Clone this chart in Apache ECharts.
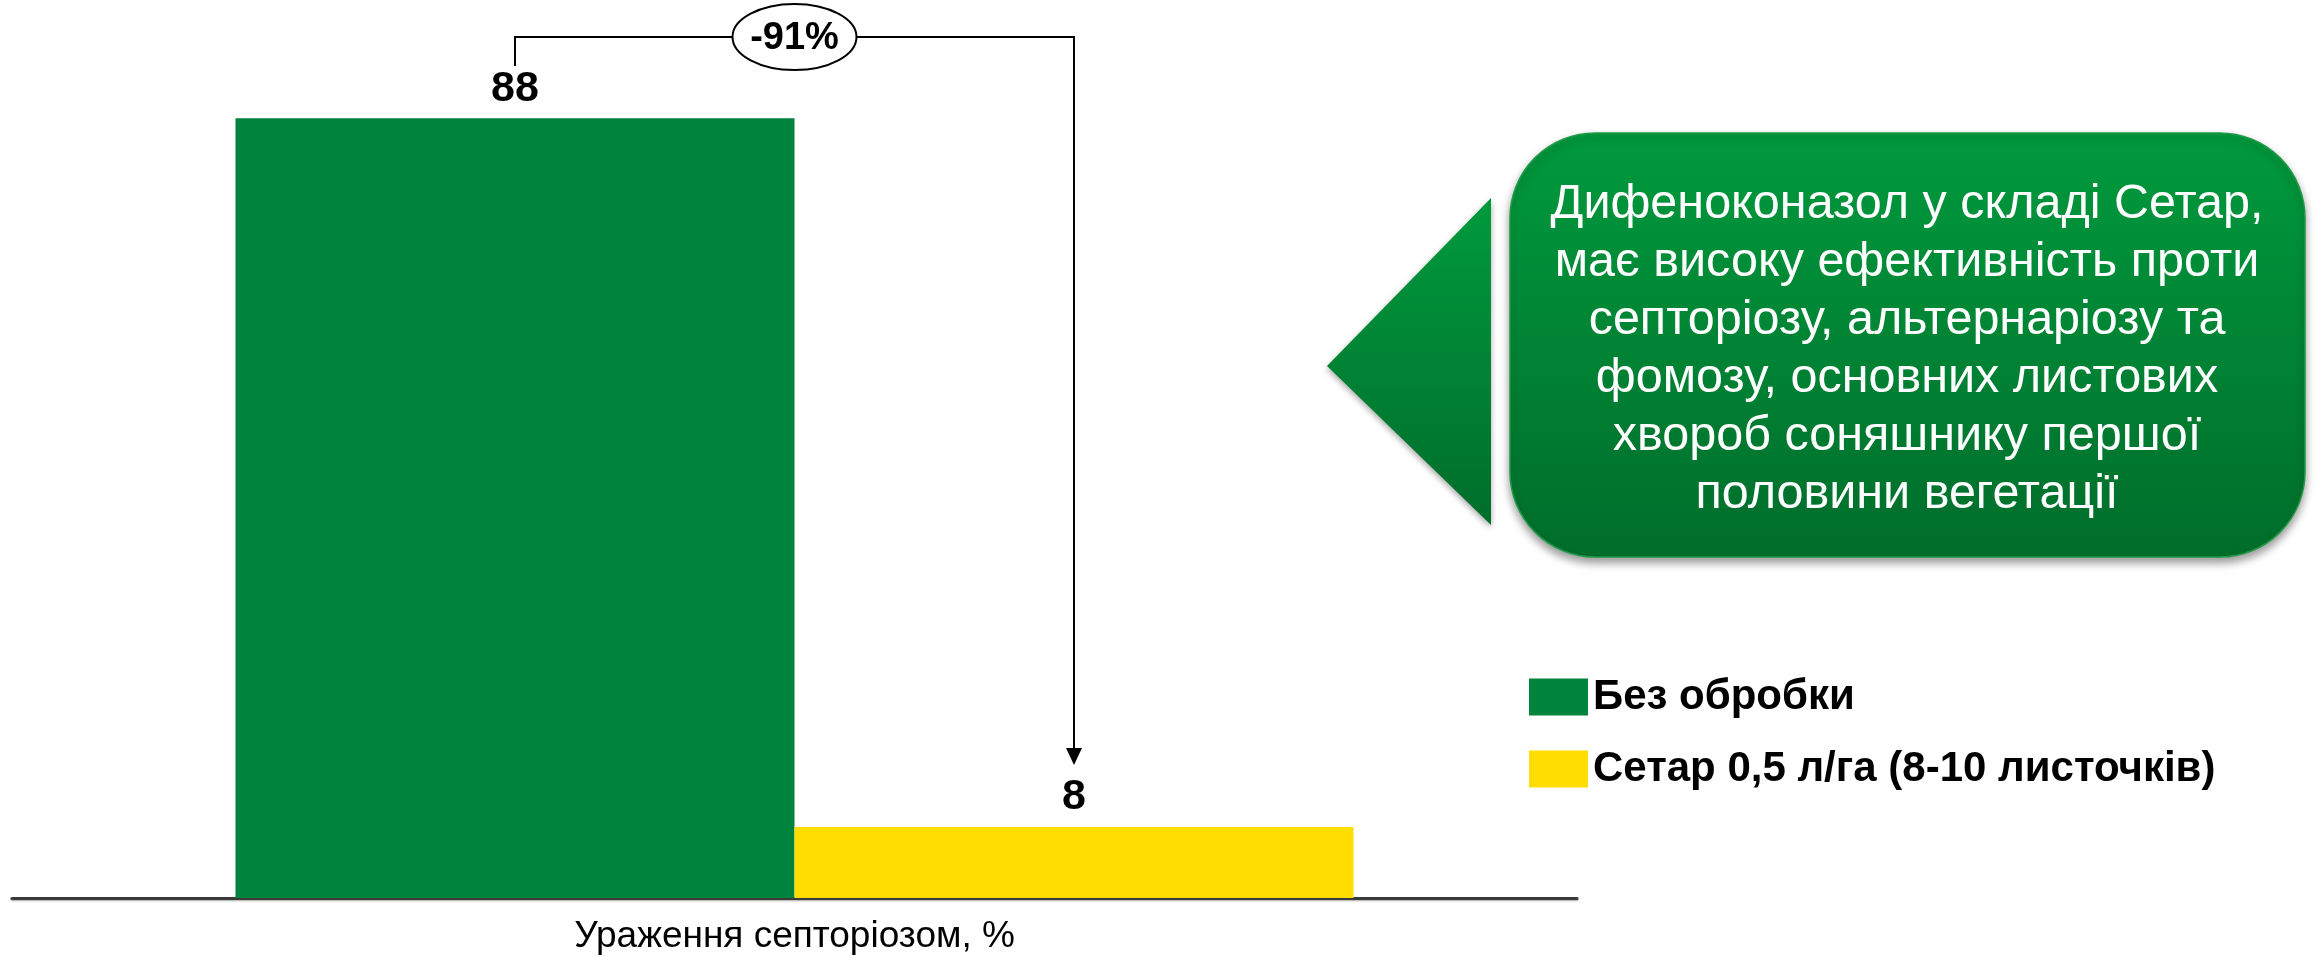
<!DOCTYPE html>
<html>
<head>
<meta charset="utf-8">
<style>
html,body{margin:0;padding:0;background:#fff;}
#c{width:2315px;height:956px;}
</style>
<script src="https://cdn.jsdelivr.net/npm/echarts@6/dist/echarts.min.js"></script>
</head>
<body>
<div id="c"></div>
<script>
const categories = ['Ураження септоріозом, %'];
const seriesNames = ['Без обробки', 'Сетар 0,5 л/га (8-10 листочків)'];
const untreated = [88];
const setar = [8];
const calloutLines = [
  'Дифеноконазол у складі Сетар,',
  'має високу ефективність проти',
  'септоріозу, альтернаріозу та',
  'фомозу, основних листових',
  'хвороб соняшнику першої',
  'половини вегетації'
];

const change = Math.round((setar[0] - untreated[0]) / untreated[0] * 100);
const changeText = (change > 0 ? '+' : '') + change + '%';

const FONT = '"Liberation Sans", Arial, sans-serif';
const chart = echarts.init(document.getElementById('c'));

const calloutFill = new echarts.graphic.LinearGradient(0, 0, 0, 1, [
  {offset: 0, color: '#009a3d'},
  {offset: 1, color: '#006d2b'}
]);

const labelStyle = {show: true, position: 'top', distance: 8, fontFamily: FONT, fontSize: 43, fontWeight: 'bold', color: '#000'};

chart.setOption({
  animation: false,
  backgroundColor: '#ffffff',
  grid: {left: 12, right: 738, top: 12, bottom: 58},
  legend: {
    orient: 'vertical',
    left: 1524,
    top: 671,
    itemWidth: 59,
    itemHeight: 37,
    itemGap: 30,
    itemTextGap: 10,
    itemStyle: {borderWidth: 0},
    icon: 'rect',
    textStyle: {fontFamily: FONT, fontSize: 42, fontWeight: 'bold', color: '#000'},
    data: seriesNames
  },
  xAxis: {
    type: 'category',
    data: categories,
    axisTick: {show: false},
    axisLine: {lineStyle: {color: '#3a3a3a', width: 3, shadowColor: 'rgba(0,0,0,0.35)', shadowBlur: 2, shadowOffsetY: 1}},
    axisLabel: {fontFamily: FONT, fontSize: 37, color: '#000', margin: 20}
  },
  yAxis: {
    type: 'value', min: 0, max: 100,
    show: false,
    splitLine: {show: false}
  },
  series: [
    {
      name: seriesNames[0], type: 'bar', data: untreated,
      barWidth: 559, barGap: '0%',
      itemStyle: {color: '#00843d'},
      label: labelStyle
    },
    {
      name: seriesNames[1], type: 'bar', data: setar,
      barWidth: 559, barGap: '0%',
      itemStyle: {color: '#ffdd00'},
      label: labelStyle
    }
  ],
  graphic: [
    {type: 'polyline', shape: {points: [[515, 66], [515, 37], [1074, 37], [1074, 750]]},
     style: {stroke: '#000', lineWidth: 2, fill: null}, z: 10},
    {type: 'polygon', shape: {points: [[1066, 748], [1082, 748], [1074, 765]]},
     style: {fill: '#000'}, z: 10},
    {type: 'ellipse', shape: {cx: 794.5, cy: 37, rx: 62, ry: 33},
     style: {fill: '#fff', stroke: '#000', lineWidth: 2}, z: 11},
    {type: 'text', x: 794.5, y: 39, z: 12,
     style: {text: changeText, fontFamily: FONT, fontSize: 38, fontWeight: 'bold', fill: '#000', align: 'center', verticalAlign: 'middle'}},
    {type: 'polygon', shape: {points: [[1327, 366], [1491, 198], [1491, 525]]},
     style: {fill: calloutFill, shadowColor: 'rgba(0,0,0,0.35)', shadowBlur: 6, shadowOffsetY: 3}, z: 5},
    {type: 'rect', shape: {x: 1510, y: 133, width: 795, height: 424, r: 85},
     style: {fill: calloutFill, stroke: '#1f9a47', lineWidth: 1.5, shadowColor: 'rgba(0,0,0,0.4)', shadowBlur: 8, shadowOffsetY: 5}, z: 5},
    {type: 'text', x: 1907, y: 350, z: 6,
     style: {text: calloutLines.join('\n'), fontFamily: FONT, fontSize: 48.5, lineHeight: 58, fill: '#fff', align: 'center', verticalAlign: 'middle'}}
  ]
});
</script>
</body>
</html>
